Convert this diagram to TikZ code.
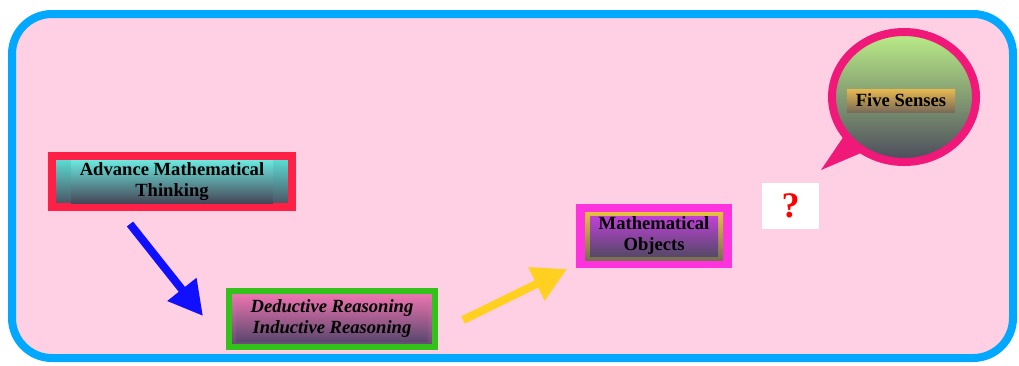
\documentclass[tikz,border=0pt]{standalone}
\usepackage{fontspec}
\setmainfont{Liberation Serif}
\usetikzlibrary{arrows.meta,shapes.geometric}
\definecolor{framec}{HTML}{00A8FF}
\definecolor{bgc}{HTML}{FFD0E4}
\definecolor{redc}{HTML}{FF2045}
\definecolor{greenc}{HTML}{33C21A}
\definecolor{magc}{HTML}{FF33DD}
\definecolor{goldc}{HTML}{E8C040}
\definecolor{bubc}{HTML}{F0197A}
\definecolor{cyanc}{HTML}{5CE6DC}
\definecolor{darkc}{HTML}{4A4A5C}
\definecolor{pinkc}{HTML}{F078B4}
\definecolor{purc}{HTML}{C040D8}
\definecolor{lgreenc}{HTML}{BCEE88}
\definecolor{ochre}{HTML}{E8B850}
\definecolor{bluea}{HTML}{1010FF}
\definecolor{yella}{HTML}{FFD020}
\tikzset{
  boxtext/.style={font=\bfseries\fontsize{18.6}{21}\selectfont, align=center, text=black, inner sep=0pt},
  bigarrow/.style={line width=8pt, -{Triangle[length=34pt,width=35pt]}, shorten >=0pt}
}
\begin{document}
\begin{tikzpicture}[x=1pt,y=-1pt]
\useasboundingbox (0,0) rectangle (1019,365);
% frame
\draw[framec, fill=bgc, line width=8pt, rounded corners=40pt] (12,14) rectangle (1013,358);

% box 1
\node[draw=redc, line width=8pt, minimum width=240pt, minimum height=51pt, inner sep=0pt,
      top color=cyanc, bottom color=darkc] (box1) at (172,181.5) {};
\node[boxtext, minimum width=202pt, minimum height=43pt, top color=cyanc!90!white, bottom color=darkc!95!black] (t1) at (box1.center) {Advance Mathematical\\Thinking};

% box 2
\node[draw=greenc, line width=6pt, minimum width=206pt, minimum height=56pt, inner sep=0pt,
      top color=pinkc, bottom color=darkc!80!purc] (box2) at (332,319) {};
\node[boxtext, font=\bfseries\itshape\fontsize{18.6}{21}\selectfont, minimum width=192pt, minimum height=44pt,
      top color=pinkc!95!black, bottom color=darkc!85!purc] (t2) at (box2.center) {Deductive Reasoning\\Inductive Reasoning};

% box 3
\node[draw=magc, line width=8pt, minimum width=148pt, minimum height=56pt, inner sep=0pt, fill=magc] (box3) at (654,236) {};
\node[line width=3pt, minimum width=138pt, minimum height=48pt, inner sep=0pt,
      top color=goldc, bottom color=darkc!70!goldc] (t3border) at (box3.center) {};
\node[minimum width=128pt, minimum height=40pt, inner sep=0pt,
      top color=purc, bottom color=darkc!90!purc] (t3box) at (box3.center) {};
\node[boxtext] (t3) at (t3box.center) {Mathematical\\Objects};

% speech bubble
\coordinate (tip) at (821,170);
\fill[bubc] (tip) -- (846,133) -- (868,150) -- cycle;
\node[ellipse, draw=bubc, line width=8pt, minimum width=144pt, minimum height=130pt, inner sep=0pt,
      top color=lgreenc, bottom color=darkc] (bubble) at (904,97) {};
\node[boxtext, minimum width=108pt, minimum height=23pt,
      top color=ochre, bottom color=darkc!70!ochre] (five) at (901,100.5) {Five Senses};

% question box
\node[fill=white, minimum width=57pt, minimum height=46pt, inner sep=0pt, text=red,
      font=\bfseries\fontsize{36}{38}\selectfont] (q) at (790.5,206) {?};

% arrows
\coordinate (a1s) at (130,224);
\coordinate (a1e) at (203,316);
\coordinate (a2s) at (463,320);
\coordinate (a2e) at (567,269);
\draw[bigarrow, bluea] (a1s) -- (a1e);
\draw[bigarrow, yella] (a2s) -- (a2e);
\end{tikzpicture}
\end{document}
